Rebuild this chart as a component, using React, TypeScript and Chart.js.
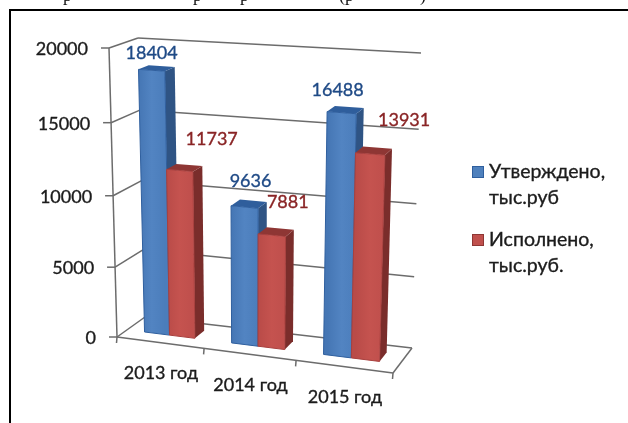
import React, { useEffect, useRef } from "react";
import { Chart, registerables } from "chart.js";

Chart.register(...registerables);

const categories = ["2013 год", "2014 год", "2015 год"];
const approved = [18404, 9636, 16488];
const executed = [11737, 7881, 13931];
const approvedLegend = ["Утверждено,", "тыс.руб"];
const executedLegend = ["Исполнено,", "тыс.руб."];
const yTicks = { min: 0, max: 20000, step: 5000 };
const captionBits: [string, number][] = [["р", 63], ["р", 193], ["р", 240], ["(р", 339], [")", 420]];

const FONT = "Lato, 'Noto Sans', sans-serif";
const C = {
  FBL: [117, 337], FBR: [393, 373], BBL: [145, 317], BBR: [412, 348],
  FTL: [109, 48], FTR: [402, 68], BTL: [138, 38], BTR: [421, 53],
};
const mix = (a: number, b: number, t: number) => a + (b - a) * t;
function project(uRaw: number, vRaw: number, d: number): [number, number] {
  const u = uRaw - 0.08 * uRaw * (1 - uRaw);
  const v = vRaw - 0.045 * vRaw * (1 - vRaw);
  const at = (i: number) => {
    const fb = mix(C.FBL[i], C.FBR[i], u);
    const bb = mix(C.BBL[i], C.BBR[i], u);
    const ft = mix(C.FTL[i], C.FTR[i], u);
    const bt = mix(C.BTL[i], C.BTR[i], u);
    return mix(mix(fb, bb, d), mix(ft, bt, d), v);
  };
  return [at(0), at(1)];
}
const D0 = 0.36;
const D1 = 0.72;
const styles = [
  { edge: "#2f5f9e", front: ["#4576b4", "#5284c2", "#4b7dbb"], side: "#2f5484", top: "#2f5e9c", label: "#1f4a86" },
  { edge: "#a8403e", front: ["#b94b48", "#c5534f", "#bf4f4c"], side: "#7a2d2b", top: "#8e3634", label: "#8a2526" },
];
const labelOffsets = [
  [[0, -17], [6, -26], [-4, -22]],
  [[32, -31], [16, -33], [34, -34]],
];
function poly(ctx: CanvasRenderingContext2D, pts: [number, number][], fill: string | CanvasGradient, stroke?: string) {
  ctx.beginPath();
  pts.forEach((p, i) => (i ? ctx.lineTo(p[0], p[1]) : ctx.moveTo(p[0], p[1])));
  ctx.closePath();
  ctx.fillStyle = fill;
  ctx.fill();
  if (stroke) {
    ctx.strokeStyle = stroke;
    ctx.lineWidth = 1;
    ctx.stroke();
  }
}
function heavyText(ctx: CanvasRenderingContext2D, t: string, x: number, y: number) {
  ctx.strokeStyle = ctx.fillStyle as string;
  ctx.lineWidth = 0.35;
  ctx.fillText(t, x, y);
  ctx.strokeText(t, x, y);
}

const scene3d = {
  id: "scene3d",
  beforeDatasetsDraw(chart: any) {
    const { ctx, chartArea: a, scales } = chart;
    const toU = (x: number) => (x - a.left) / (a.right - a.left);
    const toV = (y: number) => (a.bottom - y) / (a.bottom - a.top);
    const line = (p: [number, number], q: [number, number]) => {
      ctx.beginPath();
      ctx.moveTo(p[0], p[1]);
      ctx.lineTo(q[0], q[1]);
      ctx.stroke();
    };
    ctx.save();
    ctx.fillStyle = "#111";
    ctx.font = "18px 'Liberation Serif', serif";
    ctx.textAlign = "left";
    ctx.textBaseline = "alphabetic";
    captionBits.forEach(([t, x]) => ctx.fillText(t, x, 1));

    ctx.strokeStyle = "#6c6c6c";
    ctx.lineWidth = 1.5;
    // value axis, walls and gridlines
    line(project(0, 0, 0), project(0, 1, 0));
    const ticks = scales.y.ticks;
    ticks.forEach((t: any) => {
      const v = toV(scales.y.getPixelForValue(t.value));
      const f = project(0, v, 0);
      line([f[0] - 8, f[1]], f);
      line(f, project(0, v, 1));
      line(project(0, v, 1), project(1, v, 1));
    });
    // floor
    line(project(0, 0, 0), project(1, 0, 0));
    line(project(1, 0, 0), project(1, 0, 1));
    const n = categories.length;
    for (let i = 0; i <= n; i++) {
      const q = project(i / n, 0, 0);
      line(q, [q[0] - 0.5, q[1] + 6]);
    }
    // tick labels
    ctx.fillStyle = "#1c1c1c";
    ctx.font = `18px ${FONT}`;
    ctx.textBaseline = "middle";
    ctx.textAlign = "right";
    ticks.forEach((t: any) => {
      const v = toV(scales.y.getPixelForValue(t.value));
      const f = project(0, v, 0);
      heavyText(ctx, String(t.value), f[0] - 21, f[1] + 1);
    });
    ctx.textAlign = "center";
    categories.forEach((c, i) => {
      const u = toU(scales.x.getPixelForValue(i));
      const f = project(u, 0, 0);
      heavyText(ctx, c, f[0] + 1, f[1] + 31);
    });
    // bars
    const metas = [chart.getDatasetMeta(0), chart.getDatasetMeta(1)];
    categories.forEach((_, i) => {
      metas.forEach((meta, s) => {
        const el = meta.data[i];
        const st = styles[s];
        const u0 = toU(el.x - el.width / 2);
        const u1 = toU(el.x + el.width / 2);
        const vt = toV(el.y);
        const vb = toV(el.base);
        const fbl = project(u0, vb, D0), fbr = project(u1, vb, D0);
        const ftl = project(u0, vt, D0), ftr = project(u1, vt, D0);
        const bbr = project(u1, vb, D1), btr = project(u1, vt, D1), btl = project(u0, vt, D1);
        poly(ctx, [fbr, ftr, btr, bbr], st.side);
        poly(ctx, [ftl, ftr, btr, btl], st.top);
        const g = ctx.createLinearGradient(ftl[0], 0, ftr[0], 0);
        g.addColorStop(0, st.front[0]);
        g.addColorStop(0.5, st.front[1]);
        g.addColorStop(1, st.front[2]);
        poly(ctx, [ftl, ftr, fbr, fbl], g, st.edge);
      });
    });
    // data labels
    ctx.font = `18px ${FONT}`;
    metas.forEach((meta, s) => {
      meta.data.forEach((el: any, i: number) => {
        const p = project(toU(el.x), toV(el.y), D0);
        ctx.fillStyle = styles[s].label;
        heavyText(ctx, String(chart.data.datasets[s].data[i]), p[0] + labelOffsets[s][i][0], p[1] + labelOffsets[s][i][1]);
      });
    });
    // legend
    ctx.textAlign = "left";
    ctx.textBaseline = "alphabetic";
    ctx.font = `19.5px ${FONT}`;
    [[approvedLegend, 172], [executedLegend, 240]].forEach((row: any, s) => {
      const [lines, cy] = row;
      const ds = chart.data.datasets[s];
      ctx.fillStyle = ds.backgroundColor;
      ctx.strokeStyle = ds.borderColor;
      ctx.lineWidth = 1;
      ctx.fillRect(472.5, cy - 5.5, 11, 11);
      ctx.strokeRect(472.5, cy - 5.5, 11, 11);
      ctx.fillStyle = "#1c1c1c";
      lines.forEach((l: string, j: number) => heavyText(ctx, l, 489, cy + 6 + j * 25.5));
    });
    // frame
    ctx.fillStyle = "#000";
    ctx.fillRect(9, 9, 619, 2);
    ctx.fillRect(9, 9, 2, 414);
    ctx.restore();
    return false;
  },
};

export default function App() {
  const ref = useRef<HTMLCanvasElement>(null);
  useEffect(() => {
    document.body.style.margin = "0";
    document.body.style.background = "#fff";
    const chart = new Chart(ref.current!, {
      type: "bar",
      data: {
        labels: categories,
        datasets: [
          { label: approvedLegend.join(" "), data: approved, backgroundColor: "#4f81bd", borderColor: "#2f5f9e" },
          { label: executedLegend.join(" "), data: executed, backgroundColor: "#c0504d", borderColor: "#8e3634" },
        ],
      },
      options: {
        responsive: false,
        animation: false,
        layout: { padding: { left: 20, right: 20, top: 20, bottom: 20 } },
        datasets: { bar: { categoryPercentage: 0.585, barPercentage: 1 } },
        plugins: { legend: { display: false }, tooltip: { enabled: false } },
        scales: {
          x: { display: false },
          y: { display: false, min: yTicks.min, max: yTicks.max, ticks: { stepSize: yTicks.step } },
        },
      },
      plugins: [scene3d],
    } as any);
    return () => chart.destroy();
  }, []);
  return (
    <canvas
      ref={ref}
      width={628}
      height={423}
      style={{ display: "block", width: 628, height: 423, filter: "blur(0.45px)" }}
    />
  );
}
